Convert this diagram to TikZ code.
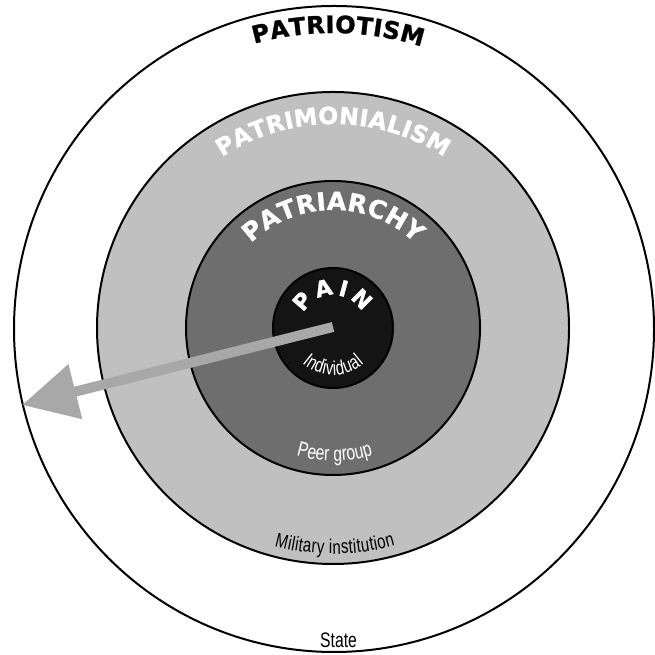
\documentclass[tikz,border=0pt]{standalone}
\usepackage{fontspec}
\newfontfamily\heavyfont{DejaVu Sans}[BoldFeatures={FakeBold=1.2}]
\newfontfamily\narrowfont[FakeStretch=0.75]{Liberation Sans}
\usetikzlibrary{decorations.text,arrows.meta,calc}
\definecolor{ringlight}{HTML}{C0C0C0}
\definecolor{ringdark}{HTML}{6E6E6E}
\definecolor{coreblack}{HTML}{141414}
\definecolor{arrowgray}{HTML}{A8A8A8}
\begin{document}
\begin{tikzpicture}[x=1pt,y=1pt,
  ring/.style={draw=black, line width=2pt},
  arclabel/.style={decorate, decoration={text along path, text align=fit to path, #1}},
]
\useasboundingbox (0,0) rectangle (654,655);
\coordinate (C) at (333,327);
\coordinate (O) at (334,326);
\coordinate (tip) at (22,250);
\coordinate (tail) at (333,328);

% rings
\draw[ring, fill=white] (O) ellipse [x radius=320, y radius=323];
\draw[ring, fill=ringlight] (C) circle [radius=236];
\draw[ring, fill=ringdark] (C) circle [radius=147];
\draw[ring, fill=coreblack] (C) circle [radius=60];

% top labels
\path[arclabel={text={|\heavyfont\bfseries\fontsize{24}{24}\selectfont|PATRIOTISM}, text color=black}]
  ($(C)+(105.5:295)$) arc[start angle=105.5, end angle=72.5, radius=295];
\path[arclabel={text={|\heavyfont\bfseries\fontsize{23.5}{24}\selectfont|PATRIMONIALISM}, text color=white}]
  ($(C)+(123:204)$) arc[start angle=123, end angle=57, radius=204];
\path[arclabel={text={|\heavyfont\bfseries\fontsize{25}{25}\selectfont|PATRIARCHY}, text color=white}]
  ($(C)+(134:118)$) arc[start angle=134, end angle=46, radius=118];
\path[arclabel={text={|\heavyfont\bfseries\fontsize{22}{22}\selectfont|PAIN}, text color=white}]
  ($(C)+(153:33)$) arc[start angle=153, end angle=29, radius=33];

% bottom labels
\path[arclabel={text={|\narrowfont\fontsize{20}{20}\selectfont|Individual}, text color=white}]
  ($(C)+(229:47)$) arc[start angle=229, end angle=311, radius=47];
\path[arclabel={text={|\narrowfont\fontsize{21}{21}\selectfont|Peer group}, text color=white}]
  ($(C)+(254:133)$) arc[start angle=254, end angle=287, radius=133];
\path[arclabel={text={|\narrowfont\fontsize{20}{20}\selectfont|Military institution}, text color=black}]
  ($(C)+(255:226)$) arc[start angle=255, end angle=286, radius=226];
\node[anchor=base, inner sep=0pt, font=\narrowfont\fontsize{21}{21}\selectfont] (state) at (338.5,7) {State};

% arrow
\draw[arrowgray, line width=10pt, -{Triangle[length=55pt, width=54pt]}] (tail) -- (tip);
\end{tikzpicture}
\end{document}
